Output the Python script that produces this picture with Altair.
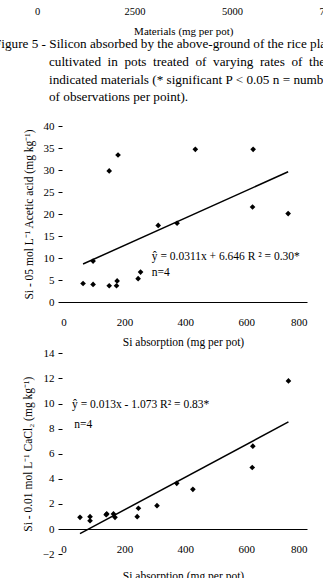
import altair as alt
import pandas as pd

FONT = "Liberation Serif"

# Top strip: tail of the previous figure's axis and the caption of Figure 5
material_ticks = [0, 2500, 5000, 7500]
caption_first = "Figure 5 - Silicon absorbed by the above-ground of the rice plants"
caption_rest = [
    "cultivated\u2002in\u2002pots\u2002treated\u2002of\u2002varying\u2002rates\u2002of\u2002the",
    "indicated materials (* significant P < 0.05 n = number",
    "of observations per point).",
]

# Si absorbed (mg per pot) vs Si extracted by 0.5 mol/L acetic acid (mg/kg)
acetic_abs = [64, 97, 97, 150, 150, 174, 176, 179, 245, 253, 311, 373, 433, 623, 621, 738]
acetic_si = [4.2, 4.0, 9.3, 3.7, 29.8, 3.7, 4.8, 33.4, 5.3, 6.8, 17.4, 17.9, 34.7, 34.7, 21.6, 20.1]
acetic_fit = (0.0311, 6.646)
acetic_label = "ŷ = 0.0311x + 6.646 R ² = 0.30*"

# Si absorbed (mg per pot) vs Si extracted by 0.01 mol/L CaCl2 (mg/kg)
cacl_abs = [54, 87, 87, 140, 142, 164, 169, 242, 246, 307, 372, 425, 622, 620, 739]
cacl_si = [0.93, 0.98, 0.66, 1.14, 1.2, 1.2, 0.93, 0.98, 1.65, 1.86, 3.64, 3.16, 6.6, 4.9, 11.8]
cacl_fit = (0.013, -1.073)
cacl_label = "ŷ = 0.013x - 1.073 R² = 0.83*"

x_ticks = [0, 200, 400, 600, 800]
x_title = "Si absorption (mg per pot)"

W, H = 323, 578


def panel(xs, ys, fit, label, label_pos, n_pos, y_dom, y_rng, y_ticks, y_title, x_axis_y,
          x_title_pad):
    pts = pd.DataFrame({"x": xs, "y": ys})
    lo, hi = min(xs), max(xs)
    line = pd.DataFrame({"x": [lo, hi], "y": [fit[0] * lo + fit[1], fit[0] * hi + fit[1]]})
    notes = pd.DataFrame({"x": [label_pos[0], n_pos[0]], "y": [label_pos[1], n_pos[1]],
                          "t": [label, "n=4"]})

    xs_scale = alt.Scale(domain=[-15, 800], range=[59, 307], nice=False, zero=False)
    ys_scale = alt.Scale(domain=y_dom, range=y_rng, nice=False, zero=False)
    x_axis = alt.Axis(orient="bottom", offset=x_axis_y - H, values=x_ticks, ticks=False,
                      grid=False, domainColor="black", domainWidth=1, labelPadding=14,
                      labelFont=FONT, labelFontSize=11, labelColor="black",
                      title=x_title, titleFont=FONT, titleFontSize=11.5,
                      titleFontWeight="normal", titleColor="black", titlePadding=x_title_pad)
    y_axis = alt.Axis(orient="left", offset=-62, values=y_ticks, domain=False, grid=False,
                      tickSize=4, tickColor="black", labelPadding=4, labelFont=FONT,
                      labelFontSize=11, labelColor="black", title=y_title, titleFont=FONT,
                      titleFontSize=11.5, titleFontWeight="normal", titleColor="black",
                      titlePadding=9)

    enc_x = alt.X("x:Q", scale=xs_scale, axis=x_axis)
    enc_y = alt.Y("y:Q", scale=ys_scale, axis=y_axis)

    dots = alt.Chart(pts).mark_point(shape="diamond", filled=True, color="black",
                                     size=32, opacity=1).encode(x=enc_x, y=enc_y)
    fit_line = alt.Chart(line).mark_line(color="black", strokeWidth=1.5).encode(x=enc_x, y=enc_y)
    texts = alt.Chart(notes).mark_text(align="left", baseline="middle", font=FONT,
                                       fontSize=11.5, color="black").encode(
        x=enc_x, y=enc_y, text="t:N")
    return alt.layer(dots, fit_line, texts)


top_acetic = panel(acetic_abs, acetic_si, acetic_fit, acetic_label, (290, 10.2), (290, 6.6),
                   [0, 40], [302, 126], list(range(0, 41, 5)),
                   "Si - 05 mol L⁻¹ Acetic acid (mg kg⁻¹)", 302, 9)
bottom_cacl = panel(cacl_abs, cacl_si, cacl_fit, cacl_label, (28, 9.9), (35, 8.3),
                    [-2, 14], [554.1, 353.3], list(range(-2, 15, 2)),
                    "Si - 0.01 mol L⁻¹ CaCl₂ (mg kg⁻¹)", 529, 16)

# axis remnant of the preceding figure
prev_axis = alt.Chart(pd.DataFrame({"m": material_ticks})).mark_point(opacity=0).encode(
    x=alt.X("m:Q", scale=alt.Scale(domain=[0, 7500], range=[37, 329.5], nice=False),
            axis=alt.Axis(orient="bottom", offset=-H, values=material_ticks, format="d",
                          domain=False, ticks=False, grid=False, labelPadding=6,
                          labelFont=FONT, labelFontSize=10.5, labelColor="black",
                          labelFlush=False, labelOverlap=False,
                          title="Materials (mg per pot)", titleFont=FONT, titleFontSize=11,
                          titleFontWeight="normal", titleColor="black", titlePadding=9)),
    y=alt.value(-30),
)

cap1 = alt.Chart(pd.DataFrame({"t": [caption_first]})).mark_text(
    align="left", baseline="middle", font=FONT, fontSize=13.2, color="black").encode(
    x=alt.value(-6), y=alt.value(44), text="t:N")

cap_rest = alt.Chart(pd.DataFrame({"row": [1, 2, 3], "t": caption_rest})).mark_text(
    align="left", baseline="middle", font=FONT, fontSize=13.2, color="black").encode(
    x=alt.value(49),
    y=alt.Y("row:Q", scale=alt.Scale(domain=[1, 3], range=[62, 97], nice=False, zero=False),
            axis=None),
    text="t:N",
)

chart = alt.layer(prev_axis, cap1, cap_rest, top_acetic, bottom_cacl).resolve_scale(
    x="independent", y="independent"
).properties(
    width=W, height=H, padding=0, autosize=alt.AutoSizeParams(type="none"),
    background="white",
).configure_view(stroke=None)

chart.save("out.html", embed_options={"renderer": "svg", "actions": False})
